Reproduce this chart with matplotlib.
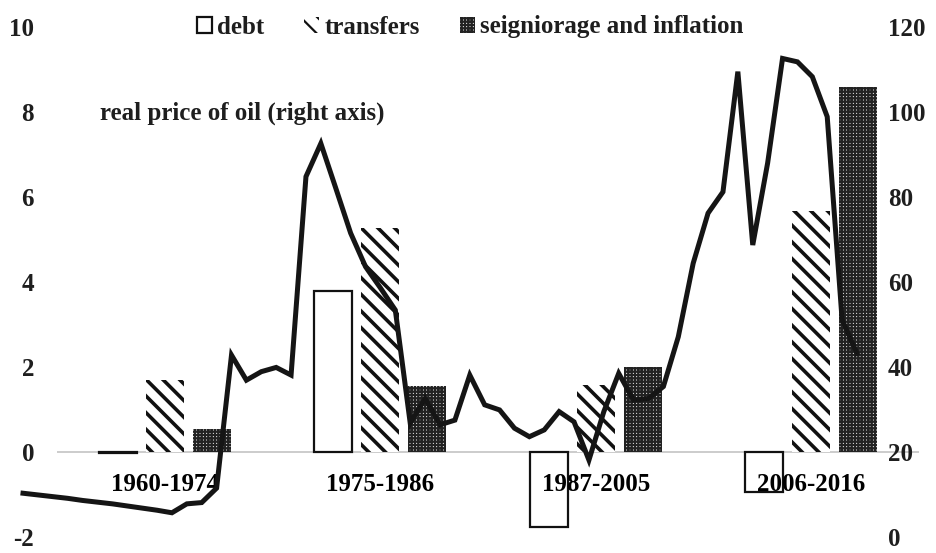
import numpy as np
import matplotlib
matplotlib.use("Agg")
import matplotlib.pyplot as plt
import matplotlib.patches as mpatches

plt.rcParams.update({'font.family': 'Liberation Serif', 'font.weight': 'bold', 'font.size': 18,
                     'axes.unicode_minus': False})

# data
periods = ['1960-1974', '1975-1986', '1987-2005', '2006-2016']
debt = [-0.03, 3.8, -1.77, -0.93]
transfers = [1.70, 5.26, 1.58, 5.67]
seigniorage = [0.53, 1.56, 2.0, 8.58]

years = list(range(1960, 2017))
oil_price = [10.3, 9.9, 9.5, 9.1, 8.6, 8.2, 7.8, 7.3, 6.8, 6.3,
             5.7, 7.8, 8.1, 11.5, 42.8, 36.9, 38.9, 39.9, 38.1, 84.8,
             92.6, 82.1, 71.5, 63.6, 58.6, 53.4, 26.8, 32.6, 26.4, 27.5,
             38.1, 31.1, 29.9, 25.6, 23.6, 25.2, 29.5, 27.1, 18.1, 29.5,
             38.5, 32.2, 32.6, 35.4, 47.1, 64.4, 76.2, 81.2, 109.5, 68.7,
             88.0, 112.6, 111.8, 108.3, 98.9, 51.1, 43.2]

W, H = 937, 553
fig = plt.figure(figsize=(W / 100, H / 100), dpi=100)
txt = '#1e1e1e'

# bar axes (category axis spans x 57..919 px, y 27..537 px)
pos = [57 / W, 1 - 537 / H, 862 / W, 510 / H]
ax = fig.add_axes(pos)
x = np.arange(len(periods))
bw, off = 0.176, 0.218

ax.axhline(0, color='#c8c8c8', lw=1.3, zorder=1)
ax.bar(x - off, debt, bw, facecolor='white', edgecolor='#111111', lw=1.6, zorder=2)
plt.rcParams['hatch.linewidth'] = 2.6
ax.bar(x, transfers, bw, facecolor='white', edgecolor='#111111', lw=0, hatch='\\\\', zorder=2)
plt.rcParams['hatch.linewidth'] = 1.6
ax.bar(x + off, seigniorage, bw, facecolor='white', edgecolor='#222222', lw=0, hatch='+++++', zorder=2)

ax.set_axisbelow(False)
ax.set_xlim(-0.5, 3.5)
ax.set_ylim(-2, 10)
ax.set_yticks(range(-2, 11, 2))
ax.set_xticks(x)
ax.set_xticklabels(periods, color=txt)
ax.spines['bottom'].set_position(('data', 0))
for s in ax.spines.values():
    s.set_visible(False)
ax.tick_params(axis='x', length=0, pad=15)
ax.tick_params(axis='y', length=0, pad=16.5, labelcolor=txt)

axr = ax.twinx()
axr.set_ylim(0, 120)
axr.set_yticks(range(0, 121, 20))
for s in axr.spines.values():
    s.set_visible(False)
axr.tick_params(axis='y', length=0, pad=-22.5, labelcolor=txt)

# oil price line on its own axes (1960 at x=23 px, 2016 at x=857 px)
axl = fig.add_axes([23 / W, pos[1], 834 / W, pos[3]])
axl.patch.set_visible(False)
axl.plot(years, oil_price, color='#151515', lw=3.6, solid_joinstyle='miter', clip_on=False)
axl.set_xlim(1960, 2016)
axl.set_ylim(0, 120)
axl.axis('off')

fig.text(100 / W, 1 - 113 / H, 'real price of oil (right axis)', ha='left', va='center', color=txt)

handles = [mpatches.Patch(facecolor='white', edgecolor='#111111', lw=1.6, label='debt'),
           mpatches.Patch(facecolor='white', edgecolor='#111111', lw=0, hatch='\\\\', label='transfers'),
           mpatches.Patch(facecolor='white', edgecolor='#222222', lw=0, hatch='+++++', label='seigniorage and inflation')]
fig.legend(handles=handles, loc='center', bbox_to_anchor=(470 / W, 1 - 27 / H), ncol=3,
           frameon=False, handlelength=0.6, handleheight=0.6, handletextpad=0.2,
           columnspacing=1.6, labelcolor=txt)

plt.savefig('out.png', dpi=100)
plt.close()
